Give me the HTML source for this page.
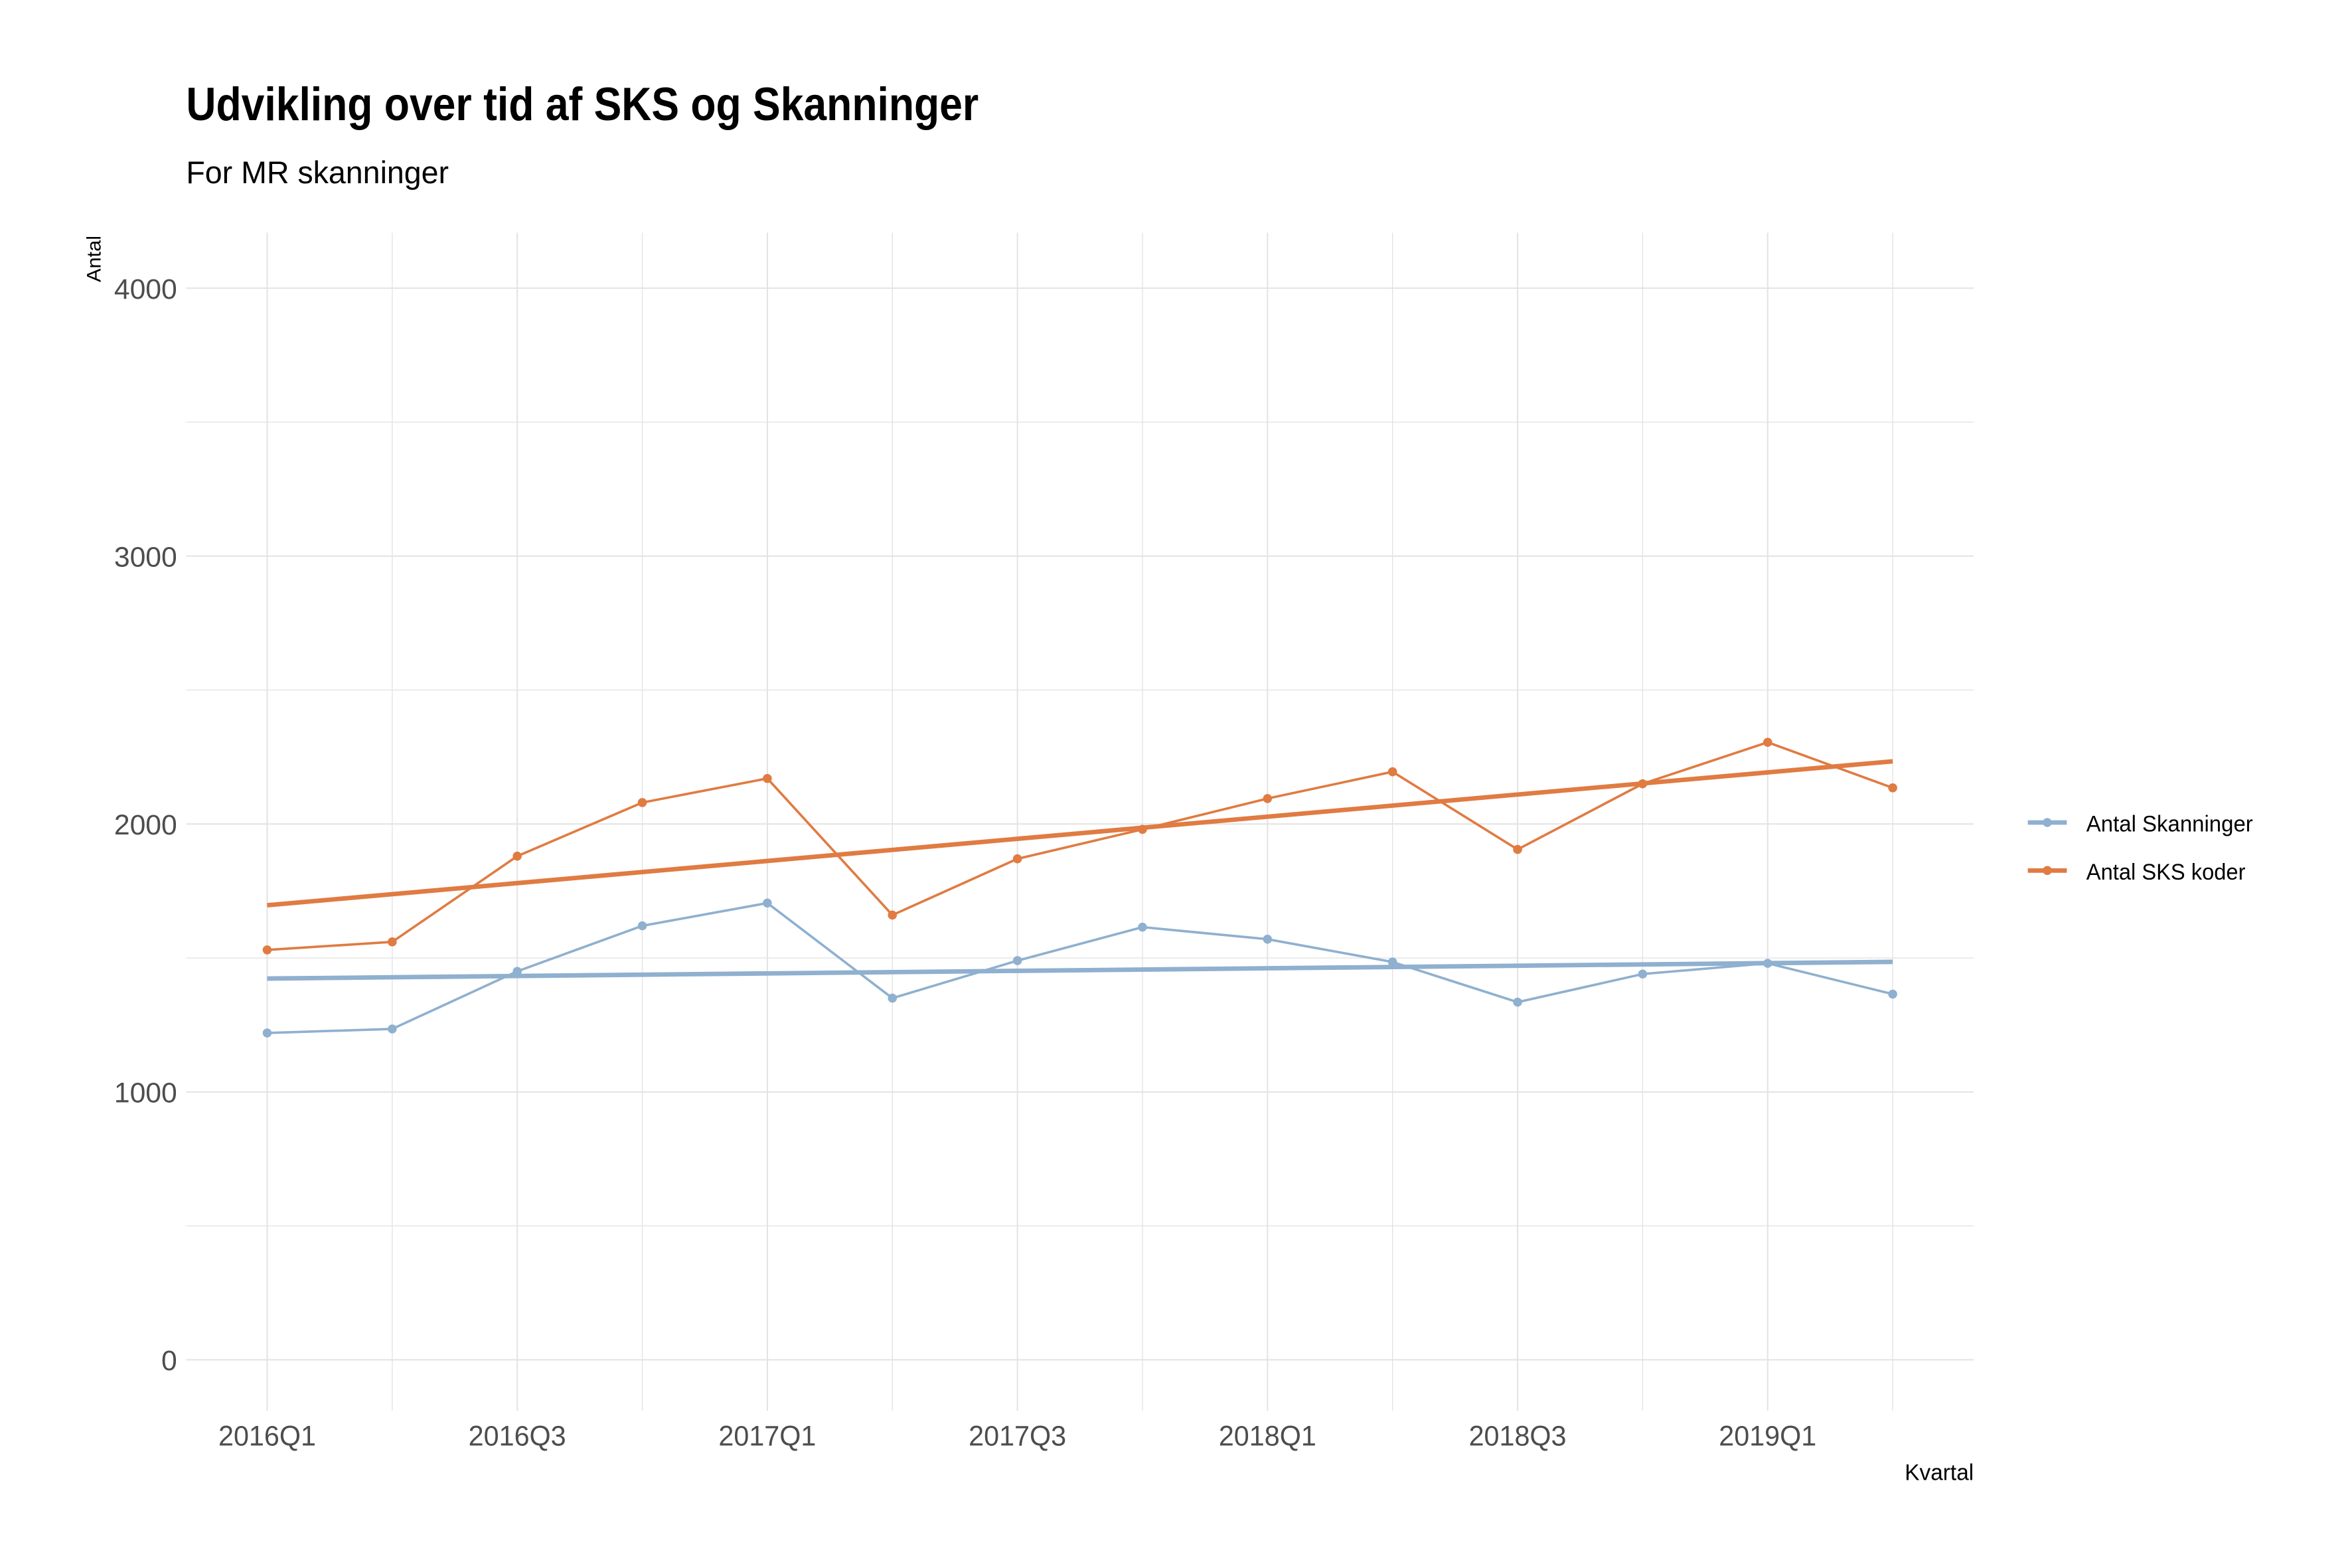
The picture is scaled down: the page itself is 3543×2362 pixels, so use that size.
<!DOCTYPE html>
<html><head><meta charset="utf-8"><style>
html,body{margin:0;padding:0;background:#fff}
svg{display:block;font-family:"Liberation Sans Narrow","Liberation Sans",sans-serif}
</style></head><body>
<svg id="chart" width="3543" height="2362" viewBox="0 0 1567 1044.7" preserveAspectRatio="none">
<rect width="1567" height="1045" fill="#fff"/>
<text x="124" y="80" font-size="31" font-weight="bold" fill="#000" textLength="528" lengthAdjust="spacingAndGlyphs">Udvikling over tid af SKS og Skanninger</text>
<text x="124" y="122" font-size="21" fill="#000" textLength="175" lengthAdjust="spacingAndGlyphs">For MR skanninger</text>
<g id="grid"></g>
<g id="series"></g>
<g id="axes"></g>
<text transform="translate(67,188) rotate(-90)" font-size="13" fill="#000" textLength="31" lengthAdjust="spacingAndGlyphs">Antal</text>
<text x="1269" y="986" font-size="15" fill="#000" textLength="46" lengthAdjust="spacingAndGlyphs">Kvartal</text>
<g>
<g>
<line x1="1351" y1="548" x2="1377" y2="548" stroke="#8FB0CF" stroke-width="3"/><circle cx="1364" cy="548" r="3" fill="#8FB0CF"/>
<text x="1390" y="554" font-size="15" fill="#000" textLength="111" lengthAdjust="spacingAndGlyphs">Antal Skanninger</text></g>
<g>
<line x1="1351" y1="580" x2="1377" y2="580" stroke="#E07B42" stroke-width="3"/><circle cx="1364" cy="580" r="3" fill="#E07B42"/>
<text x="1390" y="586" font-size="15" fill="#000" textLength="106" lengthAdjust="spacingAndGlyphs">Antal SKS koder</text></g>
</g>
</svg>
<script>
const categories=["2016Q1","2016Q2","2016Q3","2016Q4","2017Q1","2017Q2","2017Q3","2017Q4","2018Q1","2018Q2","2018Q3","2018Q4","2019Q1","2019Q2"];
const skanninger=[1220,1235,1450,1620,1705,1350,1490,1615,1570,1485,1335,1440,1480,1365];
const sks=[1530,1560,1880,2080,2170,1660,1870,1980,2095,2195,1905,2150,2305,2135];
const yTicks=[0,1000,2000,3000,4000];
const NS="http://www.w3.org/2000/svg";
const L=124,R=1315,T=155,B=940;
const x=i=>178+i*(1261-178)/13;
const y=v=>906-v*(906-192)/4000;
function mk(tag,attrs,parent){const e=document.createElementNS(NS,tag);for(const k in attrs)e.setAttribute(k,attrs[k]);parent.appendChild(e);return e;}
const grid=document.getElementById('grid'),ser=document.getElementById('series'),ax=document.getElementById('axes');
for(let v=0;v<=4000;v+=500){const l=mk('line',{x1:L,x2:R,y1:y(v),y2:y(v),stroke:'#e3e3e3','stroke-width':v%1000?0.6:0.9},grid);}
categories.forEach((c,i)=>{const l=mk('line',{x1:x(i),x2:x(i),y1:T,y2:B,stroke:'#e3e3e3','stroke-width':i%2?0.6:0.9},grid);
if(i%2===0){const t=mk('text',{x:x(i)-32.5,y:963,'font-size':19,fill:'#4d4d4d',textLength:65,lengthAdjust:'spacingAndGlyphs'},ax);t.textContent=c;}});
yTicks.forEach(v=>{const w=String(v).length*10.5;const t=mk('text',{x:118-w,y:y(v)+7,'font-size':19,fill:'#4d4d4d',textLength:w,lengthAdjust:'spacingAndGlyphs'},ax);t.textContent=v;});
function trend(vals){const n=vals.length;let sx=0,sy=0,sxy=0,sxx=0;vals.forEach((v,i)=>{sx+=i;sy+=v;sxy+=i*v;sxx+=i*i;});const b=(n*sxy-sx*sy)/(n*sxx-sx*sx);const a=(sy-b*sx)/n;return [a,a+b*(n-1)];}
function draw(vals,color,name){
const [a0,a1]=trend(vals);
const tl=mk('line',{x1:x(0),y1:y(a0),x2:x(vals.length-1),y2:y(a1),stroke:color,'stroke-width':3},ser);
const p=mk('polyline',{points:vals.map((v,i)=>x(i)+','+y(v)).join(' '),fill:'none',stroke:color,'stroke-width':1.6},ser);
vals.forEach((v,i)=>{const c=mk('circle',{cx:x(i),cy:y(v),r:3,fill:color},ser);});}
draw(skanninger,'#8FB0CF','skanninger');
draw(sks,'#E07B42','sks');
</script>
</body></html>
